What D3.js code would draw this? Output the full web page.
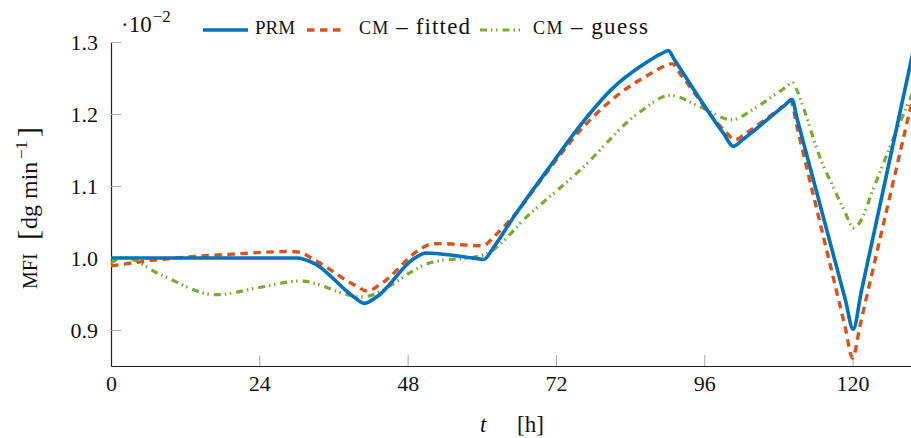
<!DOCTYPE html>
<html>
<head>
<meta charset="utf-8">
<script src="https://cdn.jsdelivr.net/npm/d3@7"></script>
<style>
  body { margin: 0; background: #fff; }
  svg { display: block; }
  svg text { font-family: "Liberation Serif", "DejaVu Serif", serif; fill: #111; }
</style>
</head>
<body>
<svg id="chart" width="911" height="438"></svg>
<script>
// Values: [t in h, MFI x 10^-2]
// (extra points along the straight stretches keep the corners tight)
var prmPoints = [
  [0, 1.0], [30, 1.0], [33, 0.992], [39, 0.948], [41, 0.937], [43, 0.946],
  [49, 0.999], [51, 1.007], [53, 1.006], [58.5, 1.0], [60.3, 0.998], [62, 1.016],
  [65, 1.055], [70.6, 1.122], [76, 1.185], [81.2, 1.236], [86, 1.268], [89.3, 1.285],
  [90.2, 1.288], [91.2, 1.275], [99.2, 1.172], [100.7, 1.155], [102.3, 1.165],
  [109, 1.212], [110.2, 1.22], [111, 1.194], [118.8, 0.943], [120.1, 0.901],
  [121.4, 0.953], [130, 1.295]
];
var cmFittedPoints = [
  [0, 0.989], [8, 0.998], [19, 1.005], [29, 1.009], [30.5, 1.008], [33, 0.997],
  [39.5, 0.962], [41.5, 0.954], [43.5, 0.963], [50, 1.012], [51.6, 1.019], [53, 1.02],
  [60.2, 1.017], [62, 1.03], [65, 1.057], [70.6, 1.12], [76, 1.178], [82.4, 1.229],
  [86.5, 1.252], [90, 1.268], [90.8, 1.27], [92, 1.257], [99.5, 1.175], [101, 1.164],
  [102.5, 1.172], [109, 1.212], [110, 1.218], [111, 1.182], [118.8, 0.904],
  [120, 0.861], [121.2, 0.906], [130, 1.232]
];
var cmGuessPoints = [
  [0, 0.993], [2, 1.001], [8, 0.977], [17, 0.949], [24, 0.959], [30.6, 0.968],
  [40.5, 0.946], [51.5, 0.993], [60.2, 1.004], [68, 1.063], [75.9, 1.122],
  [85.6, 1.203], [90.5, 1.226], [95.3, 1.21], [100.5, 1.192], [104, 1.207],
  [108.5, 1.233], [110.4, 1.243], [111, 1.233], [112, 1.21], [114.7, 1.14],
  [116.9, 1.098], [118.6, 1.067], [120.2, 1.042], [121.2, 1.05], [123.3, 1.095],
  [126.5, 1.164], [130, 1.235]
];
var xTicks = [0, 24, 48, 72, 96, 120];
var yTicks = [0.9, 1.0, 1.1, 1.2, 1.3];

var svg = d3.select("#chart");

var x = d3.scaleLinear().domain([0, 130]).range([111, 914.4]);
var y = d3.scaleLinear().domain([0.85, 1.3]).range([366, 42]);

// axes (only left and bottom, ticks pointing inward)
var xAxis = svg.append("g")
  .attr("transform", "translate(0," + y(0.85) + ")")
  .call(d3.axisBottom(x).tickValues(xTicks).tickSizeInner(-11).tickSizeOuter(0).tickPadding(9));

var yAxis = svg.append("g")
  .attr("transform", "translate(" + x(0) + ",0)")
  .call(d3.axisLeft(y).tickValues(yTicks).tickSizeInner(-10).tickSizeOuter(0)
    .tickPadding(13).tickFormat(d3.format(".1f")));

[xAxis, yAxis].forEach(function(a) {
  a.attr("font-family", null).attr("font-size", null);
  a.select(".domain").attr("stroke", "#222").attr("stroke-width", 1.2);
  a.selectAll(".tick line").attr("stroke", "#aaa").attr("stroke-width", 1);
  a.selectAll(".tick text").attr("fill", "#111").style("font-size", "22px");
});

// series
var line = d3.line()
  .x(function(d) { return x(d[0]); })
  .y(function(d) { return y(d[1]); })
  .curve(d3.curveMonotoneX);

var series = [
  { name: "guess", data: cmGuessPoints, color: "#77AC30", dash: "7,4,1.5,3.5,1.5,5", width: 3.2 },
  { name: "fitted", data: cmFittedPoints, color: "#D95319", dash: "7.5,5.5", width: 3.4 },
  { name: "prm", data: prmPoints, color: "#0072BD", dash: null, width: 3.6 }
];

series.forEach(function(s) {
  svg.append("path")
    .attr("d", line(s.data))
    .attr("fill", "none")
    .attr("stroke", s.color)
    .attr("stroke-width", s.width)
    .attr("stroke-linejoin", "round")
    .attr("stroke-dasharray", s.dash);
});

// legend
var legend = svg.append("g").attr("class", "legend");
function legendEntry(x0, x1, textX, textW, s, parts) {
  legend.append("line")
    .attr("x1", x0).attr("x2", x1).attr("y1", 30).attr("y2", 30)
    .attr("stroke", s.color).attr("stroke-width", s.width)
    .attr("stroke-dasharray", s.dash);
  var t = legend.append("text").attr("x", textX).attr("y", 34);
  if (textW) t.attr("textLength", textW).attr("lengthAdjust", "spacing");
  parts.forEach(function(p) {
    t.append("tspan").style("font-size", p[1] + "px").text(p[0]);
  });
}
legendEntry(203, 248, 255, null, series[2], [["PRM", 19]]);
legendEntry(307, 345, 359, 111, series[1], [["CM", 18], [" – fitted", 23]]);
legendEntry(480, 521, 533, 115, series[0], [["CM", 18], [" – guess", 23]]);

// exponent marker
var expo = svg.append("text").attr("x", 121).attr("y", 32).style("font-size", "23px");
expo.append("tspan").text("·10");
expo.append("tspan").attr("dy", -10).attr("dx", 1).style("font-size", "17px").text("−2");

// y label, pieces placed along the rotated baseline
function yLabelPiece(xPos, yPos, size, str) {
  return svg.append("text")
    .attr("transform", "translate(" + xPos + "," + yPos + ") rotate(-90)")
    .style("font-size", size + "px")
    .text(str);
}
yLabelPiece(37, 289, 20, "MFI");
yLabelPiece(38, 240, 30, "[");
yLabelPiece(37, 229, 24, "dg min");
yLabelPiece(27, 159, 17, "−1");
yLabelPiece(38, 137, 30, "]");

// x label
svg.append("text").attr("x", 480).attr("y", 432)
  .style("font-size", "23px").style("font-style", "italic").text("t");
svg.append("text").attr("x", 517).attr("y", 432)
  .style("font-size", "23px").text("[h]");
</script>
</body>
</html>
